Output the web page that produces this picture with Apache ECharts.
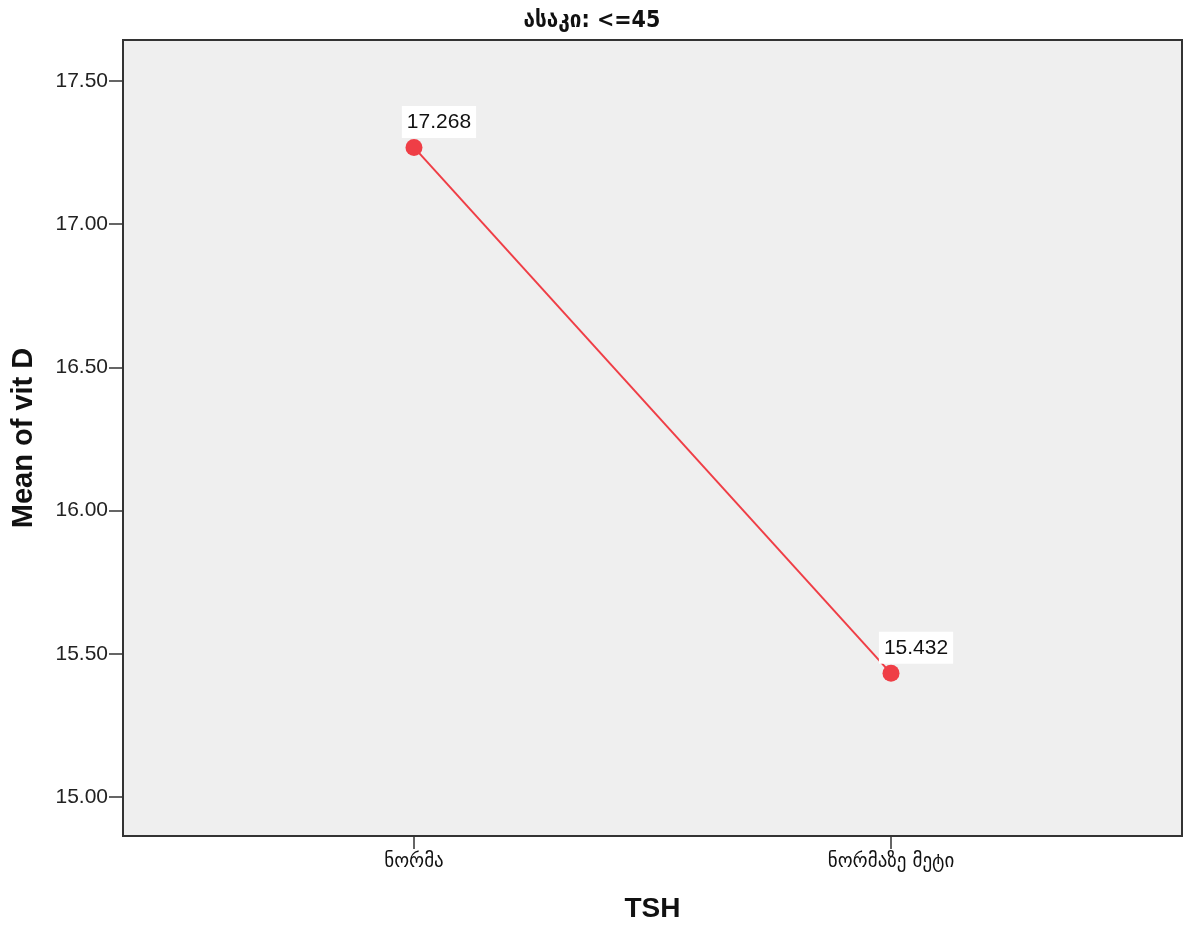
<!DOCTYPE html>
<html><head><meta charset="utf-8">
<script src="https://cdn.jsdelivr.net/npm/echarts@6/dist/echarts.min.js"></script>
<style>html,body{margin:0;padding:0;background:#fff}#c{width:1184px;height:926px}</style>
</head><body><div id="c"></div>
<script>
const titleText = 'ასაკი: <=45';
const categories = ['ნორმა', 'ნორმაზე მეტი'];
const meanVitD = [17.268, 15.432];
const yTicks = [15.00, 15.50, 16.00, 16.50, 17.00, 17.50];
const xName = 'TSH';
const yName = 'Mean of vit D';

const chart = echarts.init(document.getElementById('c'));
const lineColor = '#ef3e46';
chart.setOption({
  animation: false,
  backgroundColor: '#ffffff',
  title: {
    text: titleText, left: 'center', top: 5,
    textStyle: {fontFamily: "'Liberation Sans Narrow', 'DejaVu Sans Condensed', 'DejaVu Sans'", fontWeight: 'bold', fontSize: 23, color: '#111'}
  },
  grid: {
    left: 123, right: 2, top: 40, bottom: 90,
    outerBoundsMode: 'none', containLabel: false,
    show: true, backgroundColor: '#efefef', borderColor: '#333', borderWidth: 2
  },
  xAxis: {
    type: 'value', min: -0.61, max: 1.61,
    name: xName, nameLocation: 'middle', nameGap: 59,
    nameTextStyle: {fontFamily: 'Liberation Sans', fontWeight: 'bold', fontSize: 28, color: '#111'},
    axisLine: {show: true, onZero: false, lineStyle: {color: '#333', width: 2}},
    axisTick: {show: true, customValues: categories.map((_, i) => i), length: 13, lineStyle: {color: '#333', width: 1.5}},
    axisLabel: {customValues: categories.map((_, i) => i), formatter: v => categories[Math.round(v)] || '',
      fontFamily: 'DejaVu Sans', fontSize: 19, color: '#111', margin: 17},
    splitLine: {show: false}
  },
  yAxis: {
    type: 'value', min: 14.864, max: 17.643,
    name: yName, nameLocation: 'middle', nameGap: 85,
    nameTextStyle: {fontFamily: 'Liberation Sans', fontWeight: 'bold', fontSize: 29, color: '#111'},
    axisLine: {show: true, onZero: false, lineStyle: {color: '#333', width: 2}},
    axisTick: {show: true, customValues: yTicks, length: 14, lineStyle: {color: '#333', width: 1.5}},
    axisLabel: {customValues: yTicks, formatter: v => v.toFixed(2),
      fontFamily: 'Liberation Sans', fontSize: 21, color: '#222', margin: 15},
    splitLine: {show: false}
  },
  series: [{
    type: 'line',
    data: meanVitD.map((v, i) => [i, v]),
    symbol: 'circle', symbolSize: 17,
    itemStyle: {color: lineColor},
    lineStyle: {color: lineColor, width: 2},
    label: {
      show: true, position: 'top', distance: 1, offset: [25, 0],
      formatter: p => p.value[1].toFixed(3),
      fontFamily: 'Liberation Sans', fontSize: 21, color: '#111',
      backgroundColor: '#ffffff', padding: [6, 5, 5, 5]
    }
  }]
});
</script></body></html>
